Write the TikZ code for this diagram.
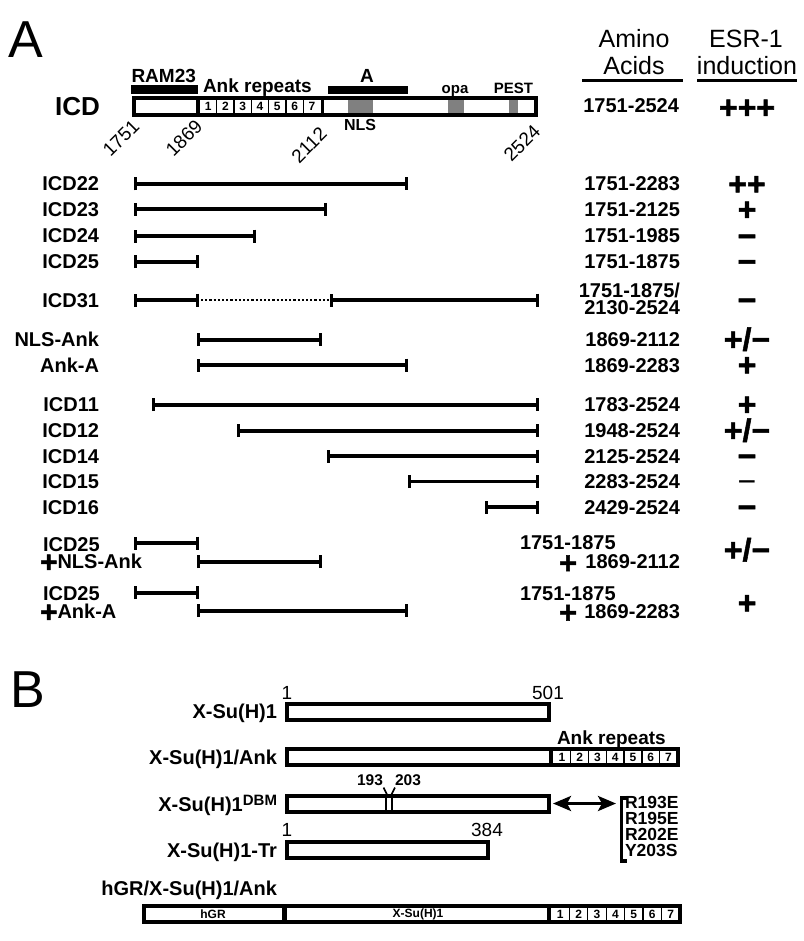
\documentclass[tikz,border=0pt]{standalone}
\usepackage{fontspec}
\setmainfont{Liberation Sans}
\newfontfamily\heavysym{Liberation Sans}[BoldFeatures={FakeBold=1.6}]
\usetikzlibrary{arrows.meta}
\definecolor{dgray}{RGB}{128,128,128}
\newcommand\fs[1]{\fontsize{#1}{#1}\selectfont}
\newcommand\bigplus{\raisebox{-4pt}{\fs{30}\heavysym\bfseries +}}
\begin{document}
\begin{tikzpicture}[x=1pt,y=-1pt,
  every node/.style={inner sep=0pt, outer sep=0pt},
  lab/.style={font=\fs{20}\bfseries, anchor=base east},
  labw/.style={font=\fs{20}\bfseries, anchor=base west},
  aa/.style={font=\fs{20}\bfseries, anchor=base east},
  aaw/.style={font=\fs{20}\bfseries, anchor=base west},
  sym/.style={font=\fs{32}\heavysym\bfseries, anchor=base},
  hdr/.style={font=\fs{25}, anchor=base},
  seg/.style={line width=4pt, arrows={Bar[width=13pt,line width=3.2pt]-Bar[width=13pt,line width=3.2pt]}},
  dom/.style={font=\fs{19}\bfseries, anchor=base},
  small/.style={font=\fs{15}\bfseries, anchor=base},
  cellnum/.style={font=\fs{12}\bfseries},
  posnum/.style={font=\fs{19}, anchor=base},
  frame/.style={draw, line width=4pt},
  panel/.style={font=\fs{52}, anchor=base west},
]
\useasboundingbox[fill=white] (0,0) rectangle (803,941);

% ---------------- Panel A ----------------
\node[panel] (pA) at (9,58) {A};

% headers
\node[hdr] (h1) at (634,48) {Amino};
\node[hdr] (h2) at (634,75) {Acids};
\node[hdr] (h3) at (746,48) {ESR-1};
\node[hdr] (h4) at (747,75) {induction};
\draw[line width=3pt] (582,81) -- (683,81);
\draw[line width=3pt] (697,81) -- (797,81);

% domain bars above ICD
\fill (131,85.3) rectangle (197.7,94.3);
\fill (328.3,86) rectangle (407.7,94.3);
\node[dom, anchor=base west] (tRAM) at (131.5,83) {RAM23};
\node[dom, anchor=base west] (tAnk) at (203,92.5) {Ank repeats};
\node[dom] (tA) at (367,83) {A};
\node[small] (topa) at (455,94) {opa};
\node[small] (tPEST) at (513.5,94) {PEST};

% ICD bar
\fill[white] (133.7,98.2) rectangle (536,114.6);
\fill[dgray] (348.3,100) rectangle (372.7,112.8);
\fill[dgray] (448.3,100) rectangle (464.3,112.8);
\fill[dgray] (509.3,100) rectangle (517.7,112.8);
\fill (196,98.2) rectangle (199.5,114.6);
\fill (320.5,98.2) rectangle (324,114.6);
\foreach \k in {1,...,6} \draw[line width=1.3pt] ({199.5+\k*17.29},98.2) -- ({199.5+\k*17.29},114.6);
\foreach \k in {1,...,7} \node[cellnum] (c\k) at ({199.5+(\k-0.5)*17.29},106.6) {\k};
\draw[frame] (133.7,98.2) rectangle (536,114.6);
\node[small, font=\fs{16}\bfseries] (tNLS) at (360,130.5) {NLS};
\node[lab, font=\fs{26}\bfseries] (lICD) at (100,115.8) {ICD};

\node[font=\fs{19}, rotate=45] (p1751) at (121,138) {1751};
\node[font=\fs{19}, rotate=45] (p1869) at (184,138) {1869};
\node[font=\fs{19}, rotate=45] (p2112) at (309,145) {2112};
\node[font=\fs{19}, rotate=45] (p2524) at (522,143) {2524};

\node[aa] (aICD) at (679,112.5) {1751-2524};
\node[sym] (eICD) at (747,118.5) {+++};

% rows
\node[lab] (l22) at (99,191) {ICD22};
\draw[seg] (134,184) -- (408,184);
\node[aa] (a22) at (680,191) {1751-2283};
\node[sym] (e22) at (747,195) {++};

\node[lab] (l23) at (99,216.5) {ICD23};
\draw[seg] (134,209.5) -- (327,209.5);
\node[aa] (a23) at (680,216.5) {1751-2125};
\node[sym] (e23) at (747,220.5) {+};

\node[lab] (l24) at (99,243) {ICD24};
\draw[seg] (134,236) -- (256,236);
\node[aa] (a24) at (680,243) {1751-1985};
\node[sym] (e24) at (747,247) {−};

\node[lab] (l25) at (99,268.5) {ICD25};
\draw[seg] (134,261.5) -- (199,261.5);
\node[aa] (a25) at (680,268.5) {1751-1875};
\node[sym] (e25) at (747,272.5) {−};

\node[lab] (l31) at (99,307) {ICD31};
\draw[seg] (134,300) -- (199,300);
\draw[line width=2.6pt, dash pattern=on 2.2pt off 2pt] (201,300) -- (329,300);
\draw[seg] (330,300) -- (539,300);
\node[aa] (a31a) at (680,297) {1751-1875/};
\node[aa] (a31b) at (680,314) {2130-2524};
\node[sym] (e31) at (747,311) {−};

\node[lab] (lNA) at (99,346.5) {NLS-Ank};
\draw[seg] (197,339.5) -- (322,339.5);
\node[aa] (aNA) at (680,346.5) {1869-2112};
\node[sym] (eNA) at (747,350.5) {+/−};

\node[lab] (lAA) at (99,372) {Ank-A};
\draw[seg] (197,365) -- (408,365);
\node[aa] (aAA) at (680,372) {1869-2283};
\node[sym] (eAA) at (747,376) {+};

\node[lab] (l11) at (99,411.5) {ICD11};
\draw[seg] (152,404.5) -- (539,404.5);
\node[aa] (a11) at (680,411.5) {1783-2524};
\node[sym] (e11) at (747,415.5) {+};

\node[lab] (l12) at (99,437.5) {ICD12};
\draw[seg] (237,430.5) -- (539,430.5);
\node[aa] (a12) at (680,437.5) {1948-2524};
\node[sym] (e12) at (747,441.5) {+/−};

\node[lab] (l14) at (99,463) {ICD14};
\draw[seg] (327,456) -- (539,456);
\node[aa] (a14) at (680,463) {2125-2524};
\node[sym] (e14) at (747,467) {−};

\node[lab] (l15) at (99,488.5) {ICD15};
\draw[seg, line width=2.8pt] (408,481.5) -- (539,481.5);
\node[aa] (a15) at (680,488.5) {2283-2524};
\node[sym, font=\fs{32}] (e15) at (747,492.5) {−};

\node[lab] (l16) at (99,514) {ICD16};
\draw[seg] (485,507) -- (539,507);
\node[aa] (a16) at (680,514) {2429-2524};
\node[sym] (e16) at (747,518) {−};

% combination 1
\node[labw] (g1a) at (43,551) {ICD25};
\node[labw] (g1b) at (40,568.3) {\bigplus NLS-Ank};
\draw[seg] (134,543) -- (199,543);
\draw[seg] (197,561.5) -- (322,561.5);
\node[aaw] (g1c) at (520,549) {1751-1875};
\node[sym, font=\fs{31}\heavysym\bfseries] (g1p) at (568,573.5) {+};
\node[aa] (g1d) at (680,568.5) {1869-2112};
\node[sym] (g1e) at (747,561) {+/−};

% combination 2
\node[labw] (g2a) at (43,600) {ICD25};
\node[labw] (g2b) at (40,618.3) {\bigplus Ank-A};
\draw[seg] (134,592.5) -- (199,592.5);
\draw[seg] (197,610.5) -- (408,610.5);
\node[aaw] (g2c) at (520,600) {1751-1875};
\node[sym, font=\fs{31}\heavysym\bfseries] (g2p) at (568,623) {+};
\node[aa] (g2d) at (680,618) {1869-2283};
\node[sym] (g2e) at (747,614) {+};

% ---------------- Panel B ----------------
\node[panel] (pB) at (10,707) {B};

% X-Su(H)1
\node[lab] (b1) at (277,718) {X-Su(H)1};
\draw[frame] (286.5,703.5) rectangle (549,719.5);
\node[posnum] (b1s) at (287,699) {1};
\node[posnum] (b1e) at (548,699) {501};

% X-Su(H)1/Ank
\node[lab] (b2) at (277,764) {X-Su(H)1/Ank};
\node[dom, anchor=base west] (b2t) at (557,744.5) {Ank repeats};
\fill (548.5,749) rectangle (553,765);
\foreach \k in {1,...,6} \draw[line width=1.3pt] ({553+\k*17.78},749) -- ({553+\k*17.78},765);
\foreach \k in {1,...,7} \node[cellnum] (bc\k) at ({553+(\k-0.5)*17.78},757.3) {\k};
\draw[frame] (286.5,749) rectangle (677.5,765);

% DBM
\node[lab] (b3) at (277,811) {X-Su(H)1\raisebox{6pt}{\fs{15}DBM}};
\draw[frame] (286.5,796) rectangle (549,812);
\draw[line width=2.3pt] (386,796) -- (386,812);
\draw[line width=2.3pt] (392,796) -- (392,812);
\node[small, font=\fs{15.5}\bfseries] (m193) at (370,785) {193};
\node[small, font=\fs{15.5}\bfseries] (m203) at (408,785) {203};
\draw[line width=1.6pt] (383.5,787.5) -- (387,794.5);
\draw[line width=1.6pt] (395,787.5) -- (391.5,794.5);
\coordinate (arL) at (553,803.5);
\coordinate (arR) at (616,803.5);
\draw[line width=3pt, arrows={Stealth[length=18pt,width=15pt,inset=4pt]-Stealth[length=18pt,width=15pt,inset=4pt]}] (arL) -- (arR);
\draw[line width=3.5pt] (627,798) -- (621.5,798) -- (621.5,861) -- (627,861);
\node[font=\fs{17.5}\bfseries, anchor=base west] (mut1) at (625,808.3) {R193E};
\node[font=\fs{17.5}\bfseries, anchor=base west] (mut2) at (625,824) {R195E};
\node[font=\fs{17.5}\bfseries, anchor=base west] (mut3) at (625,840) {R202E};
\node[font=\fs{17.5}\bfseries, anchor=base west] (mut4) at (625,856.7) {Y203S};

% Tr
\node[lab] (b4) at (277,857) {X-Su(H)1-Tr};
\draw[frame] (286.5,842) rectangle (487.5,857.5);
\node[posnum] (b4s) at (287,836.5) {1};
\node[posnum] (b4e) at (487,836.5) {384};

% hGR
\node[lab] (b5) at (277,895) {hGR/X-Su(H)1/Ank};
\fill (282,906) rectangle (287,922);
\fill (547,906) rectangle (551,922);
\foreach \k in {1,...,6} \draw[line width=1.3pt] ({551+\k*18.4},906) -- ({551+\k*18.4},922);
\foreach \k in {1,...,7} \node[cellnum] (hc\k) at ({551+(\k-0.5)*18.4},914.3) {\k};
\node[cellnum] (hg) at (213,914.3) {hGR};
\node[cellnum] (hx) at (418,914.3) {X-Su(H)1};
\draw[line width=3.6pt] (144,906) rectangle (680,922);
\end{tikzpicture}
\end{document}
